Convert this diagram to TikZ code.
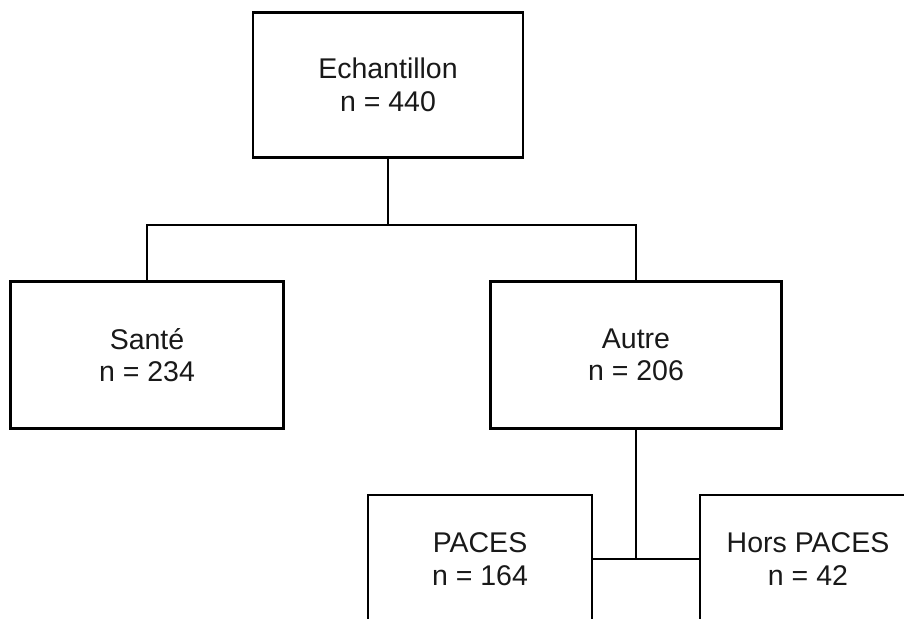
\documentclass[tikz,border=0pt]{standalone}
\usepackage{fontspec}
\setmainfont{Liberation Sans}
\begin{document}
\begin{tikzpicture}[x=1pt,y=-1pt,
  box/.style={draw=black, line width=2.2pt, rectangle, inner sep=0pt, align=center,
    font=\fontsize{28.5}{32.6}\selectfont, text=black!90},
  link/.style={draw=black, line width=2.2pt}]
\useasboundingbox (0,0) rectangle (904,618);
\clip (0,0) rectangle (904,618);
\node[box, minimum width=270pt, minimum height=145pt] (ech) at (388,85) {Echantillon\\n = 440};
\node[box, minimum width=273pt, minimum height=147pt] (sante) at (147,355) {Santé\\n = 234};
\node[box, minimum width=291pt, minimum height=147pt] (autre) at (636,355) {Autre\\n = 206};
\node[box, minimum width=224pt, minimum height=128pt] (paces) at (480,559) {PACES\\n = 164};
\node[box, minimum width=216pt, minimum height=128pt] (hors) at (808,559) {Hors PACES\\n = 42};
\coordinate (split) at (388,225);
\draw[link] (ech.south) -- (split);
\draw[link] (split) -| (sante.north);
\draw[link] (split) -| (autre.north);
\draw[link] (autre.south) |- (paces.east);
\draw[link] (autre.south) |- (hors.west);
\end{tikzpicture}
\end{document}
